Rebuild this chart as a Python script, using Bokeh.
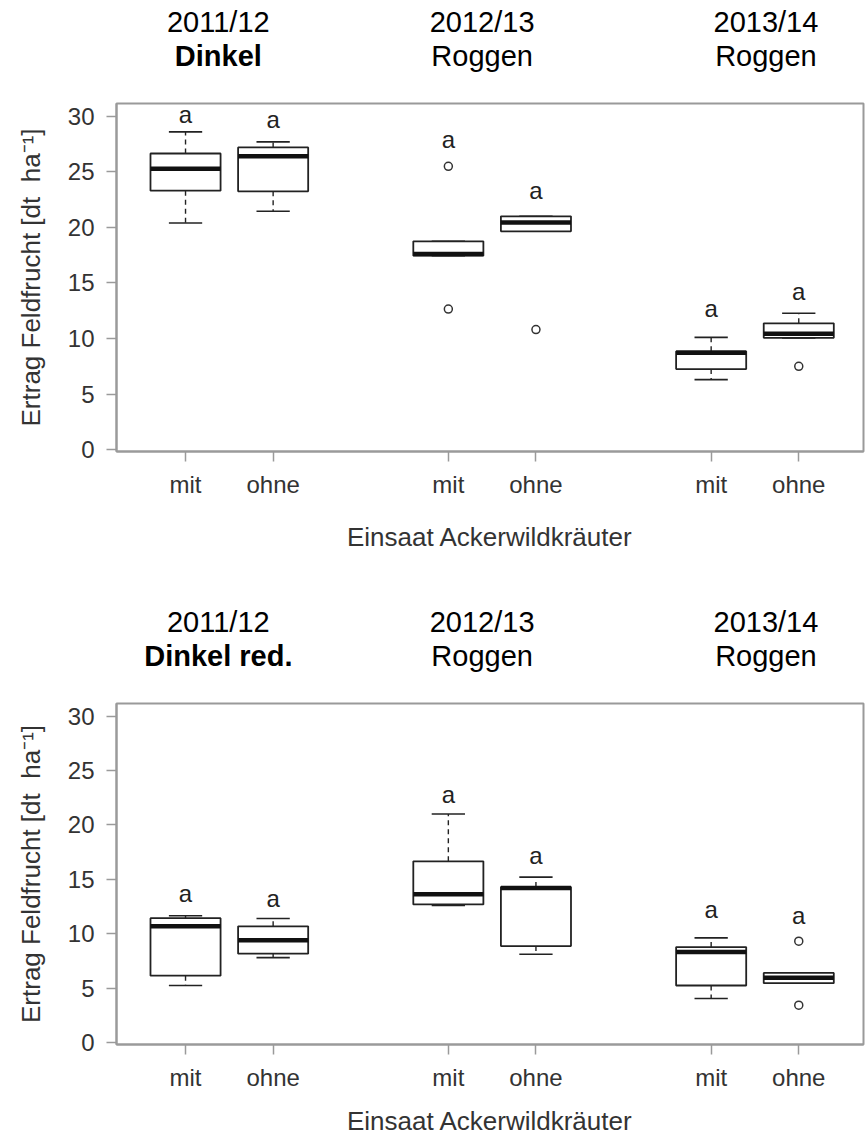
from bokeh.plotting import figure
from bokeh.layouts import column
from bokeh.models import Range1d, FixedTicker
from bokeh.embed import file_html
from bokeh.resources import INLINE
from bokeh.core.properties import value

FONT = "Liberation Sans"

# ---------------- data ----------------
positions = [1, 2, 4, 5, 7, 8]
treatments = ["mit", "ohne", "mit", "ohne", "mit", "ohne"]
seasons = ["2011/12", "2012/13", "2013/14"]
crops_top = ["Dinkel", "Roggen", "Roggen"]
crops_bottom = ["Dinkel red.", "Roggen", "Roggen"]
crop_style = ["bold", "normal", "normal"]
letters = ["a", "a", "a", "a", "a", "a"]
y_ticks = [0, 5, 10, 15, 20, 25, 30]

# upper panel (Dinkel)
top_lower = [20.4, 21.45, 17.45, 19.65, 6.3, 10.06]
top_q1 = [23.3, 23.25, 17.45, 19.65, 7.25, 10.06]
top_median = [25.27, 26.4, 17.6, 20.45, 8.72, 10.42]
top_q3 = [26.65, 27.2, 18.75, 21.0, 8.85, 11.37]
top_upper = [28.6, 27.7, 18.75, 21.0, 10.1, 12.27]
top_out_x = [4, 4, 5, 8]
top_out_y = [25.5, 12.65, 10.8, 7.5]
top_letter_y = [29.9, 29.4, 27.6, 23.05, 12.45, 13.95]

# lower panel (Dinkel red.)
bot_lower = [5.25, 7.81, 12.6, 8.12, 4.05, 5.46]
bot_q1 = [6.15, 8.17, 12.7, 8.87, 5.25, 5.46]
bot_median = [10.68, 9.41, 13.64, 14.2, 8.33, 5.95]
bot_q3 = [11.43, 10.68, 16.65, 14.3, 8.78, 6.4]
bot_upper = [11.65, 11.4, 21.0, 15.2, 9.62, 6.4]
bot_out_x = [8, 8]
bot_out_y = [9.32, 3.44]
bot_letter_y = [13.45, 12.94, 22.5, 16.95, 11.95, 11.43]

# ---------------- style ----------------
W = 865
BORDER_L, BORDER_R = 116, 2
X0, X1 = 0.212, 8.739
Y0, Y1 = -0.17, 31.15
HALF_BOX = 0.4
HALF_CAP = 0.19
TITLE_DX = [-11, -10, 11]
TITLE_ROW1_PX = 74   # pixels above the bottom of the title strip
TITLE_ROW2_PX = 40
AX_COL = "#9a9a9a"
TXT_COL = "#333333"
BOX_COL = "#222222"


def make_title_fig(height, crops):
    t = figure(width=W, height=height, x_range=Range1d(X0, X1),
               y_range=Range1d(0, height), output_backend="svg",
               toolbar_location=None, x_axis_type=None, y_axis_type=None,
               title=None,
               min_border_left=BORDER_L, min_border_right=BORDER_R,
               min_border_top=0, min_border_bottom=0)
    t.outline_line_color = None
    t.grid.visible = False
    centers = [(positions[2 * i] + positions[2 * i + 1]) / 2 for i in range(3)]
    t.text(x=centers, y=[TITLE_ROW1_PX] * 3, text=seasons, x_offset=TITLE_DX,
           text_font=value(FONT), text_font_size="29px", text_color="black",
           text_align="center", text_baseline="alphabetic")
    t.text(x=centers, y=[TITLE_ROW2_PX] * 3, text=crops, x_offset=TITLE_DX,
           text_font=value(FONT), text_font_size="29px", text_color="black",
           text_font_style=crop_style,
           text_align="center", text_baseline="alphabetic")
    return t


def make_panel(height, border_top, border_bottom, lab_standoff,
               lower, q1, med, q3, upper, out_x, out_y, letter_y):
    p = figure(width=W, height=height,
               x_range=Range1d(X0, X1), y_range=Range1d(Y0, Y1),
               output_backend="svg", toolbar_location=None, title=None,
               min_border_left=BORDER_L, min_border_right=BORDER_R,
               min_border_top=border_top, min_border_bottom=border_bottom)
    p.grid.visible = False
    p.outline_line_color = AX_COL
    p.outline_line_width = 2
    p.background_fill_color = "white"
    p.border_fill_color = "white"

    for ax in (p.xaxis[0], p.yaxis[0]):
        ax.axis_line_color = AX_COL
        ax.axis_line_width = 2
        ax.major_tick_line_color = AX_COL
        ax.major_tick_line_width = 1.5
        ax.major_tick_out = 10
        ax.major_tick_in = 0
        ax.minor_tick_line_color = None
        ax.major_label_text_font = FONT
        ax.major_label_text_font_size = "24px"
        ax.major_label_text_color = TXT_COL
        ax.axis_label_text_font = FONT
        ax.axis_label_text_font_size = "26px"
        ax.axis_label_text_font_style = "normal"
        ax.axis_label_text_color = TXT_COL

    p.yaxis.ticker = FixedTicker(ticks=y_ticks)
    p.yaxis.major_label_standoff = 12
    p.yaxis.axis_label = "Ertrag Feldfrucht [dt\u00a0\u00a0ha\u207b\u00b9]"
    p.yaxis.axis_label_standoff = 19

    p.xaxis.ticker = FixedTicker(ticks=positions)
    p.xaxis.major_label_overrides = {pos: t for pos, t in zip(positions, treatments)}
    p.xaxis.major_label_standoff = 9
    p.xaxis.axis_label = "Einsaat Ackerwildkr\u00e4uter"
    p.xaxis.axis_label_standoff = lab_standoff

    # whiskers (dashed)
    p.segment(x0=positions, y0=q3, x1=positions, y1=upper,
              line_color=BOX_COL, line_width=1.4, line_dash="5 4")
    p.segment(x0=positions, y0=q1, x1=positions, y1=lower,
              line_color=BOX_COL, line_width=1.4, line_dash="5 4")
    # whisker caps
    cl = [x - HALF_CAP for x in positions]
    cr = [x + HALF_CAP for x in positions]
    p.segment(x0=cl, y0=upper, x1=cr, y1=upper, line_color=BOX_COL, line_width=1.6)
    p.segment(x0=cl, y0=lower, x1=cr, y1=lower, line_color=BOX_COL, line_width=1.6)
    # boxes
    bl = [x - HALF_BOX for x in positions]
    br = [x + HALF_BOX for x in positions]
    p.quad(left=bl, right=br, bottom=q1, top=q3,
           fill_color="white", line_color=BOX_COL, line_width=1.8)
    # medians
    p.segment(x0=bl, y0=med, x1=br, y1=med, line_color="#111111", line_width=4.5)
    # outliers
    p.scatter(x=out_x, y=out_y, marker="circle", size=8,
              fill_color=None, line_color="#333333", line_width=1.5)
    # significance letters
    p.text(x=positions, y=letter_y, text=letters,
           text_font=value(FONT), text_font_size="24px", text_color="#222222",
           text_align="center", text_baseline="alphabetic", y_offset=-3)
    return p


t1 = make_title_fig(95, crops_top)
p1 = make_panel(465, 8, 109, 21, top_lower, top_q1, top_median, top_q3, top_upper,
                top_out_x, top_out_y, top_letter_y)
t2 = make_title_fig(135, crops_bottom)
p2 = make_panel(443, 8, 88, 12, bot_lower, bot_q1, bot_median, bot_q3, bot_upper,
                bot_out_x, bot_out_y, bot_letter_y)

layout = column(t1, p1, t2, p2, spacing=0)
open("out.html", "w").write(file_html(layout, INLINE))
